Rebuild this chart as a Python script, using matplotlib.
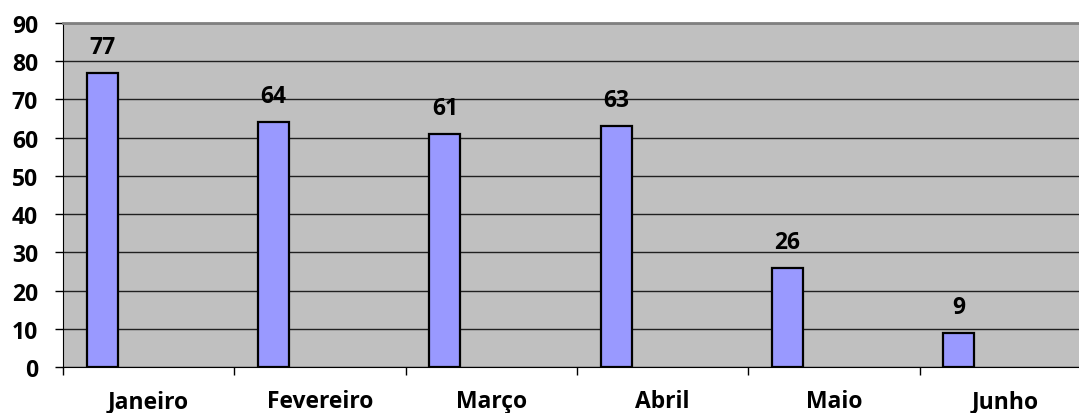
import matplotlib.pyplot as plt
import numpy as np

meses = ['Janeiro', 'Fevereiro', 'Março', 'Abril', 'Maio', 'Junho']
valores = [77, 64, 61, 63, 26, 9]

plt.rcParams['font.family'] = ['Open Sans', 'DejaVu Sans']
plt.rcParams['font.weight'] = 'bold'

fig = plt.figure(figsize=(10.79, 4.14), dpi=100)
ax = fig.add_axes([63 / 1079, 1 - 368 / 414, (1091 - 63) / 1079, (368 - 24) / 414])
ax.set_facecolor('#C0C0C0')

x = np.arange(len(meses))
bars = ax.bar(x + 0.229, valores, width=0.181, color='#9999FF',
              edgecolor='black', linewidth=1.6, zorder=3)

for xi, v in zip(x, valores):
    ax.annotate(str(v), (xi + 0.229, v), xytext=(0, 10), textcoords='offset points',
                ha='center', va='bottom', fontsize=16.5, fontweight='bold')

ax.set_xlim(0, len(meses))
ax.set_ylim(0, 90)
ax.set_yticks(range(0, 91, 10))
ax.yaxis.grid(True, color='#202020', linewidth=1.0, zorder=1)
ax.set_axisbelow(True)

# category boundaries as ticks, labels in the middle
ax.set_xticks(range(0, len(meses) + 1))
ax.set_xticklabels([''] * (len(meses) + 1))
ax.set_xticks(x + 0.5, minor=True)
ax.set_xticklabels(meses, minor=True)
ax.tick_params(axis='x', which='minor', length=0, pad=16, labelsize=16.5)
ax.tick_params(axis='x', which='major', length=6, width=1, color='black', direction='out')
ax.tick_params(axis='y', length=6, width=1, pad=12, labelsize=16.5)

for lbl in ax.get_xticklabels(minor=True) + ax.get_yticklabels():
    lbl.set_fontweight('bold')

ax.spines['left'].set_color('black')
ax.spines['bottom'].set_color('black')
ax.spines['top'].set_color('#808080')
ax.spines['top'].set_linewidth(2)
ax.spines['right'].set_visible(False)

fig.savefig('out.png', dpi=100)
